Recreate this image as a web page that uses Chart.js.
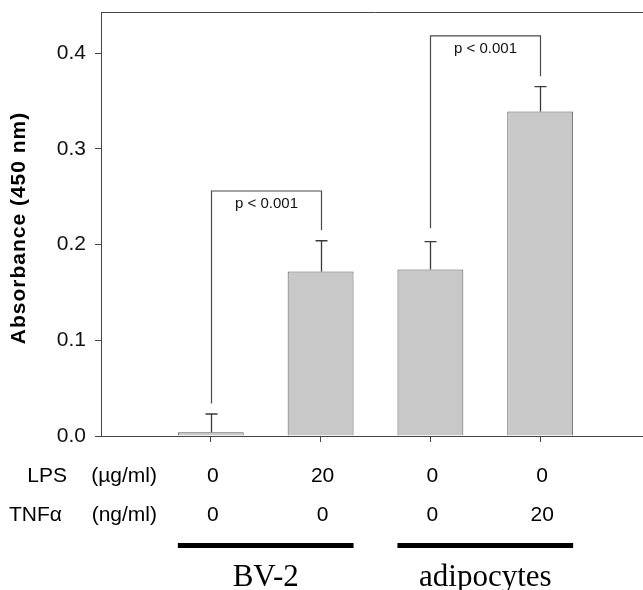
<!DOCTYPE html>
<html>
<head>
<meta charset="utf-8">
<script src="https://cdn.jsdelivr.net/npm/chart.js@4.4.1/dist/chart.umd.min.js"></script>
<style>
  html, body { margin: 0; padding: 0; background: #fff; overflow: hidden; }
  #wrap { width: 650px; height: 590px; position: relative; }
</style>
</head>
<body>
<div id="wrap"><canvas id="c"></canvas></div>
<script>
// ---- data ----
const categories = ['BV-2 control', 'BV-2 + LPS', 'adipocytes control', 'adipocytes + TNFα'];
const absorbance = [0.004, 0.172, 0.174, 0.339];
const errors = [0.019, 0.032, 0.029, 0.026];
const lpsValues = ['0', '20', '0', '0'];
const tnfValues = ['0', '0', '0', '20'];
const yTicks = [0, 0.1, 0.2, 0.3, 0.4];
const rowNames = ['LPS', 'TNF\u03b1'];
const rowUnits = ['(\u00b5g/ml)', '(ng/ml)'];
const groupNames = ['BV-2', 'adipocytes'];
const groupMembers = [[0, 1], [2, 3]];
const pLabels = ['p < 0.001', 'p < 0.001'];
const bracketPairs = [[0, 1], [2, 3]];
const bracketTops = [0.256, 0.418];
const bracketLeftEnds = [0.034, 0.217];
const bracketRightEnds = [0.215, 0.376];
const yTitle = 'Absorbance (450 nm)';
const yMax = 0.443;

// padded category axis: empty slot at each end
const labels = [''].concat(categories, ['']);
const barData = [null].concat(absorbance, [null]);

const SANS = "'Liberation Sans', Arial, sans-serif";
const SERIF = "'Liberation Serif', 'Times New Roman', serif";
const AXIS = '#444';

const annot = {
  id: 'annot',
  afterDraw(chart) {
    const ctx = chart.ctx;
    const ca = chart.chartArea;
    const ys = chart.scales.y;
    const meta = chart.getDatasetMeta(0);
    const barX = i => meta.data[i + 1].x;
    const barW = i => meta.data[i + 1].width;
    ctx.save();

    // top frame line
    ctx.strokeStyle = AXIS;
    ctx.lineWidth = 1;
    ctx.beginPath();
    ctx.moveTo(ca.left, ca.top + 0.5);
    ctx.lineTo(ca.right, ca.top + 0.5);
    ctx.stroke();

    // error bars
    ctx.strokeStyle = '#3a3a3a';
    ctx.lineWidth = 1.3;
    absorbance.forEach((v, i) => {
      const x = Math.round(barX(i)) + 0.5;
      const y0 = ys.getPixelForValue(v);
      const y1 = ys.getPixelForValue(v + errors[i]);
      ctx.beginPath();
      ctx.moveTo(x, y0);
      ctx.lineTo(x, y1);
      ctx.moveTo(x - 6, y1);
      ctx.lineTo(x + 6, y1);
      ctx.stroke();
    });

    // significance brackets
    ctx.strokeStyle = '#4a4a4a';
    ctx.lineWidth = 1.2;
    bracketPairs.forEach((pr, k) => {
      const xl = Math.round(barX(pr[0])) + 0.5;
      const xr = Math.round(barX(pr[1])) + 0.5;
      const yt = ys.getPixelForValue(bracketTops[k]);
      ctx.beginPath();
      ctx.moveTo(xl, ys.getPixelForValue(bracketLeftEnds[k]));
      ctx.lineTo(xl, yt);
      ctx.lineTo(xr, yt);
      ctx.lineTo(xr, ys.getPixelForValue(bracketRightEnds[k]));
      ctx.stroke();
      ctx.fillStyle = '#111';
      ctx.font = '15px ' + SANS;
      ctx.textAlign = 'center';
      ctx.textBaseline = 'top';
      ctx.fillText(pLabels[k], (xl + xr) / 2, yt + 5);
    });

    // treatment rows
    ctx.fillStyle = '#000';
    ctx.font = '21px ' + SANS;
    ctx.textBaseline = 'alphabetic';
    const rowY = [ca.bottom + 46, ca.bottom + 85];
    const nameRight = [67, 62];
    rowNames.forEach((t, r) => {
      ctx.textAlign = 'right';
      ctx.fillText(rowUnits[r], 157, rowY[r]);
      ctx.fillText(t, nameRight[r], rowY[r]);
    });
    ctx.textAlign = 'center';
    lpsValues.forEach((t, i) => ctx.fillText(t, barX(i) + 2, rowY[0]));
    tnfValues.forEach((t, i) => ctx.fillText(t, barX(i) + 2, rowY[1]));

    // group bars and names
    groupMembers.forEach((g, k) => {
      const x0 = barX(g[0]) - barW(g[0]) / 2;
      const x1 = barX(g[g.length - 1]) + barW(g[g.length - 1]) / 2;
      ctx.fillStyle = '#000';
      ctx.fillRect(x0, ca.bottom + 107, x1 - x0, 5);
      ctx.font = '31px ' + SERIF;
      ctx.textAlign = 'center';
      ctx.fillText(groupNames[k], (x0 + x1) / 2, ca.bottom + 150);
    });

    // y axis title
    ctx.translate(25, (ca.top + ca.bottom) / 2 + 4);
    ctx.rotate(-Math.PI / 2);
    ctx.font = 'bold 21px ' + SANS;
    if ('letterSpacing' in ctx) ctx.letterSpacing = '1px';
    ctx.textAlign = 'center';
    ctx.textBaseline = 'alphabetic';
    ctx.fillStyle = '#000';
    ctx.fillText(yTitle, 0, 0);
    ctx.restore();
  }
};

new Chart(document.getElementById('c'), {
  type: 'bar',
  data: {
    labels: labels,
    datasets: [{
      data: barData,
      backgroundColor: '#c8c8c8',
      borderColor: '#5a5a5a',
      borderWidth: 1,
      borderSkipped: 'bottom',
      categoryPercentage: 1,
      barPercentage: 0.6
    }]
  },
  options: {
    responsive: true,
    maintainAspectRatio: false,
    animation: false,
    events: [],
    layout: { padding: { top: 12, right: 0, left: 0, bottom: 0 } },
    plugins: { legend: { display: false }, tooltip: { enabled: false }, title: { display: false } },
    scales: {
      x: {
        type: 'category',
        offset: false,
        afterFit: s => { s.height = 154; s.paddingLeft = 0; s.paddingRight = 0; },
        ticks: { display: false },
        border: { display: true, color: AXIS, width: 1 },
        grid: {
          offset: false,
          drawOnChartArea: false,
          drawTicks: true,
          tickLength: 6,
          color: c => (c.index === 0 || c.index === labels.length - 1) ? 'rgba(0,0,0,0)' : AXIS
        }
      },
      y: {
        min: 0,
        max: yMax,
        afterFit: s => { s.width = 101; s.paddingTop = 0; s.paddingBottom = 0; },
        afterBuildTicks: s => { s.ticks = yTicks.map(v => ({ value: v })); },
        ticks: {
          callback: v => Number(v).toFixed(1),
          font: { family: SANS, size: 21 },
          color: '#111',
          padding: 9
        },
        border: { display: true, color: AXIS, width: 1 },
        grid: { drawOnChartArea: false, drawTicks: true, tickLength: 6, color: AXIS }
      }
    }
  },
  plugins: [annot]
});
</script>
</body>
</html>
